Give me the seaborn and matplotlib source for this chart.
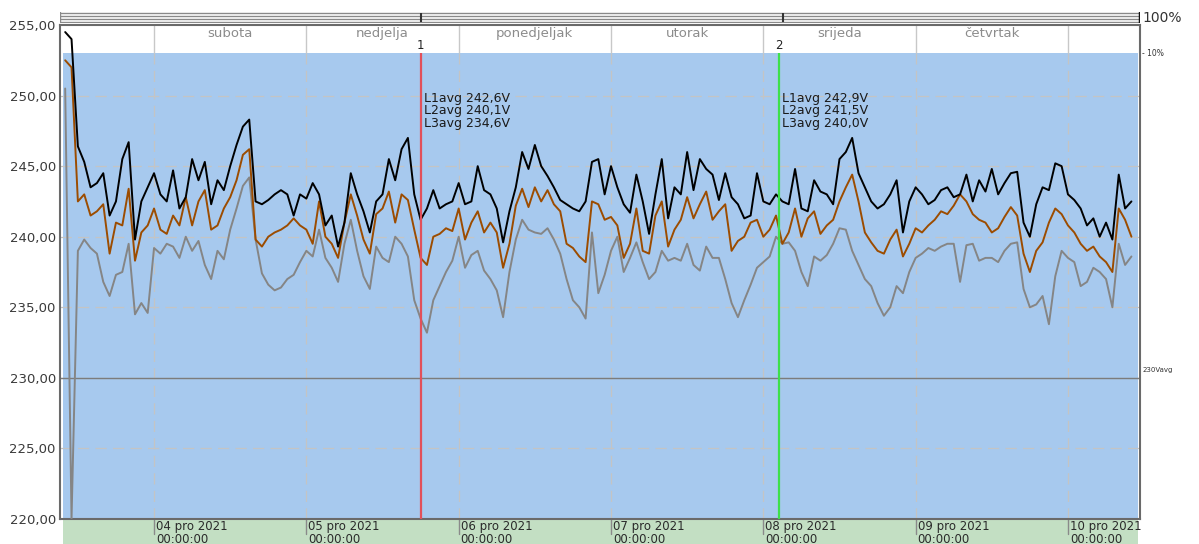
import numpy as np
import pandas as pd
import matplotlib
matplotlib.use("Agg")
import matplotlib.pyplot as plt
import matplotlib.dates as mdates
import matplotlib.transforms as mtransforms
from matplotlib.patches import Rectangle
from datetime import datetime
import seaborn as sns

# ---------------- data (hourly, from 03 Dec 2021 10:00) ----------------
L1_d3 = [254.5, 254.0, 246.4, 245.3, 243.5, 243.8, 244.5, 241.5, 242.5, 245.5, 246.7, 239.8, 242.5, 243.5]
L1_d4 = [244.5, 243.0, 242.5, 244.7, 242.0, 242.8, 245.5, 244.0, 245.3, 242.3, 244.0, 243.3, 245.0, 246.5, 247.8, 248.3, 242.5, 242.3, 242.6, 243.0, 243.3, 243.0, 241.5, 243.0]
L1_d5 = [242.7, 243.8, 243.0, 240.8, 241.5, 239.3, 241.0, 244.5, 243.0, 241.8, 240.3, 242.5, 243.0, 245.5, 244.0, 246.2, 247.0, 243.0, 241.2, 242.0, 243.3, 242.0, 242.3, 242.5]
L1_d6 = [243.8, 242.3, 242.5, 245.0, 243.3, 243.0, 242.0, 239.6, 241.8, 243.5, 246.0, 244.8, 246.5, 245.0, 244.3, 243.5, 242.6, 242.3, 242.0, 241.8, 242.5, 245.3, 245.5, 243.0]
L1_d7 = [245.0, 243.5, 242.3, 241.7, 244.4, 242.5, 240.2, 243.0, 245.5, 241.3, 243.5, 243.0, 246.0, 243.3, 245.5, 244.8, 244.4, 242.6, 244.5, 242.8, 242.3, 241.3, 241.5, 244.5]
L1_d8 = [242.5, 242.3, 243.0, 242.5, 242.3, 244.8, 242.0, 241.8, 244.0, 243.2, 243.0, 242.3, 245.5, 246.0, 247.0, 244.5, 243.5, 242.5, 242.0, 242.3, 243.0, 244.0, 240.3, 242.5]
L1_d9 = [243.5, 243.0, 242.3, 242.6, 243.3, 243.5, 242.8, 243.0, 244.4, 242.5, 244.0, 243.2, 244.8, 243.0, 243.8, 244.5, 244.6, 241.0, 240.0, 242.3, 243.5, 243.3, 245.2, 245.0]
L1_d10 = [243.0, 242.6, 242.0, 240.8, 241.3, 240.0, 241.0, 239.8, 244.4, 242.0, 242.5]

L2_d3 = [252.5, 252.0, 242.5, 243.0, 241.5, 241.8, 242.3, 238.8, 241.0, 240.8, 243.4, 238.3, 240.3, 240.8]
L2_d4 = [242.0, 240.5, 240.2, 241.5, 240.8, 242.8, 240.8, 242.5, 243.3, 240.5, 240.8, 242.0, 242.8, 244.0, 245.8, 246.2, 239.8, 239.3, 240.0, 240.3, 240.5, 240.8, 241.3, 240.8]
L2_d5 = [240.5, 239.5, 242.5, 240.0, 239.5, 238.5, 241.0, 243.0, 241.5, 239.8, 238.8, 241.6, 242.0, 243.2, 241.0, 243.0, 242.6, 240.5, 238.5, 238.0, 240.0, 240.2, 240.6, 240.4]
L2_d6 = [242.0, 239.8, 241.0, 241.8, 240.3, 241.0, 240.3, 237.8, 239.5, 242.2, 243.4, 242.1, 243.5, 242.5, 243.3, 242.3, 241.8, 239.5, 239.2, 238.6, 238.2, 242.5, 242.3, 241.2]
L2_d7 = [241.4, 240.8, 238.5, 239.5, 242.0, 239.0, 238.8, 241.5, 242.5, 239.3, 240.5, 241.2, 242.8, 241.3, 242.3, 243.2, 241.2, 241.8, 242.3, 239.0, 239.7, 240.0, 241.0, 241.2]
L2_d8 = [240.0, 240.5, 241.5, 239.5, 240.3, 242.0, 240.0, 241.3, 241.8, 240.2, 240.8, 241.2, 242.5, 243.5, 244.4, 242.5, 240.3, 239.6, 239.0, 238.8, 239.8, 240.5, 238.6, 239.5]
L2_d9 = [240.6, 240.3, 240.8, 241.2, 241.8, 241.6, 242.2, 243.0, 242.5, 241.6, 241.2, 241.0, 240.3, 240.6, 241.4, 242.1, 241.5, 238.8, 237.5, 239.0, 239.6, 241.0, 242.0, 241.6]
L2_d10 = [240.8, 240.3, 239.5, 239.0, 239.3, 238.6, 238.2, 237.5, 242.0, 241.2, 240.0]

L3_d3 = [250.5, 220.0, 239.0, 239.8, 239.2, 238.8, 236.8, 235.8, 237.3, 237.5, 239.5, 234.5, 235.3, 234.6]
L3_d4 = [239.2, 238.8, 239.5, 239.3, 238.5, 240.0, 239.0, 239.7, 238.0, 237.0, 239.0, 238.4, 240.5, 242.0, 243.6, 244.2, 239.8, 237.4, 236.6, 236.2, 236.4, 237.0, 237.3, 238.2]
L3_d5 = [239.0, 238.6, 240.5, 238.5, 237.8, 236.8, 239.5, 241.2, 239.0, 237.2, 236.3, 239.3, 238.5, 238.2, 240.0, 239.5, 238.6, 235.5, 234.2, 233.2, 235.5, 236.5, 237.5, 238.3]
L3_d6 = [240.0, 237.8, 238.7, 239.0, 237.6, 237.0, 236.2, 234.3, 237.5, 239.8, 241.2, 240.5, 240.3, 240.2, 240.6, 239.8, 238.8, 237.0, 235.5, 235.0, 234.2, 240.3, 236.0, 237.3]
L3_d7 = [239.0, 240.0, 237.5, 238.5, 239.6, 238.2, 237.0, 237.5, 239.0, 238.3, 238.5, 238.3, 239.5, 238.0, 237.6, 239.3, 238.5, 238.5, 237.0, 235.3, 234.3, 235.5, 236.6, 237.8]
L3_d8 = [238.2, 238.6, 240.0, 239.5, 239.6, 239.0, 237.5, 236.5, 238.6, 238.3, 238.7, 239.5, 240.6, 240.5, 239.0, 238.0, 237.0, 236.5, 235.3, 234.4, 235.0, 236.5, 236.0, 237.5]
L3_d9 = [238.5, 238.8, 239.2, 239.0, 239.3, 239.5, 239.5, 236.8, 239.4, 239.5, 238.3, 238.5, 238.5, 238.2, 239.0, 239.5, 239.6, 236.3, 235.0, 235.2, 235.8, 233.8, 237.2, 239.0]
L3_d10 = [238.5, 238.2, 236.5, 236.8, 237.8, 237.5, 237.0, 235.0, 239.5, 238.0, 238.6]

day_names = ["subota", "nedjelja", "ponedjeljak", "utorak", "srijeda", "četvrtak"]
tick_labels = ["04 pro 2021\n00:00:00", "05 pro 2021\n00:00:00", "06 pro 2021\n00:00:00",
               "07 pro 2021\n00:00:00", "08 pro 2021\n00:00:00", "09 pro 2021\n00:00:00",
               "10 pro 2021\n00:00:00"]
cursor1_text = ["L1avg 242,6V", "L2avg 240,1V", "L3avg 234,6V"]
cursor2_text = ["L1avg 242,9V", "L2avg 241,5V", "L3avg 240,0V"]

L1 = L1_d3 + L1_d4 + L1_d5 + L1_d6 + L1_d7 + L1_d8 + L1_d9 + L1_d10
L2 = L2_d3 + L2_d4 + L2_d5 + L2_d6 + L2_d7 + L2_d8 + L2_d9 + L2_d10
L3 = L3_d3 + L3_d4 + L3_d5 + L3_d6 + L3_d7 + L3_d8 + L3_d9 + L3_d10
n = len(L1)
times = pd.date_range("2021-12-03 10:00", periods=n, freq="h")
df = pd.DataFrame({
    "time": list(times) * 3,
    "V": L3 + L2 + L1,
    "phase": ["L3"] * n + ["L2"] * n + ["L1"] * n,
})

# ---------------- figure ----------------
sns.set_style("white")
plt.rcParams['font.family'] = ['DejaVu Sans']

W, H = 1199, 544
fig = plt.figure(figsize=(W / 100, H / 100), dpi=100)
Lp, Rp, Tp, Bp = 60, 1140, 25, 519
ax = fig.add_axes([Lp / W, 1 - Bp / H, (Rp - Lp) / W, (Bp - Tp) / H])

x0 = mdates.date2num(datetime(2021, 12, 3, 9, 11))
x1 = mdates.date2num(datetime(2021, 12, 10, 11, 21))

# background limit band
ax.axhspan(220, 253, xmin=3 / 1080, xmax=1078 / 1080, color="#A7C9EE", zorder=0, lw=0)

# grid
for v in [225, 230, 235, 240, 245, 250]:
    ax.axhline(v, color="#c4c4c4", lw=0.9, ls=(0, (9, 5)), zorder=1)
days = [datetime(2021, 12, d) for d in range(4, 11)]
for d in days:
    ax.vlines(d, 220, 253, color="#c4c4c4", lw=0.9, linestyles=(0, (9, 5)), zorder=1)
    ax.vlines(d, 253, 255, color="#c8c8c8", lw=1.0, zorder=1)
ax.axhline(230, color="#7c7c7c", lw=1.0, zorder=2)

sns.lineplot(data=df, x="time", y="V", hue="phase", hue_order=["L3", "L2", "L1"],
             palette={"L1": "#000000", "L2": "#9C4C00", "L3": "#858585"},
             estimator=None, sort=False, lw=1.4, legend=False, ax=ax, zorder=3)

ax.set_xlim(x0, x1)
ax.set_ylim(220, 255)
ax.set_xlabel("")
ax.set_ylabel("")

# y ticks
yt = [220, 225, 230, 235, 240, 245, 250, 255]
ax.set_yticks(yt)
ax.set_yticklabels([f"{v:.2f}".replace(".", ",") for v in yt], fontsize=9.5, color="#3a3a3a")
ax.tick_params(axis="y", length=0, pad=3)

# x ticks
ax.set_xticks(days)
ax.set_xticklabels(tick_labels, fontsize=8.5, color="#2a2a2a", ha="left", linespacing=1.0)
ax.tick_params(axis="x", length=0, pad=0.5)
off = mtransforms.ScaledTranslation(2 / 100, 0, fig.dpi_scale_trans)
for lab in ax.get_xticklabels():
    lab.set_transform(lab.get_transform() + off)
for d in days:
    ax.plot([d, d], [0, -0.03], transform=ax.get_xaxis_transform(), color="#8a8a8a",
            lw=1.0, clip_on=False)

for s in ax.spines.values():
    s.set_color("#6a6a6a")
    s.set_linewidth(1.5)
    s.set_visible(True)

# day names
for i, name in enumerate(day_names):
    mid = mdates.date2num(days[i]) + 0.5
    ax.text(mid, 254.43, name, ha="center", va="center", fontsize=9.5, color="#8c8c8c")

# cursors
c1 = datetime(2021, 12, 5, 18, 2)
c2 = datetime(2021, 12, 8, 2, 25)
ax.vlines(c1, 220, 253, color="#E2505A", lw=1.6, zorder=5)
ax.vlines(c2, 220, 253, color="#3EE04A", lw=1.6, zorder=5)
ax.text(c1, 253.58, "1", ha="center", va="center", fontsize=8.5, color="#222")
ax.text(c2, 253.58, "2", ha="center", va="center", fontsize=8.5, color="#222")
offt = mtransforms.ScaledTranslation(3 / 100, 0, fig.dpi_scale_trans)
for c, texts in [(c1, cursor1_text), (c2, cursor2_text)]:
    for yv, t in zip([249.8, 248.92, 248.02], texts):
        ax.text(c, yv, t, ha="left", va="center", fontsize=9, color="#1a1a1a",
                transform=ax.transData + offt, zorder=6)

# green date band
fig.add_artist(Rectangle((63 / W, 0), (1138 - 63) / W, 25 / H, transform=fig.transFigure,
                         facecolor="#C3DFC3", edgecolor="none", zorder=-1))

# top scroll strip
axs = fig.add_axes([Lp / W, 1 - 23 / H, (Rp - Lp) / W, 11 / H])
axs.set_xlim(0, 1)
axs.set_ylim(0, 1)
axs.axis("off")
for yy in [0.05, 0.35, 0.65, 0.95]:
    axs.axhline(yy, color="#8a8a8a", lw=1.0)
axs.axvline(0, color="#8a8a8a", lw=1.0)
axs.axvline(1, color="#111111", lw=2.5)
for px in [421, 783]:
    axs.vlines((px - Lp) / (Rp - Lp), 0.05, 0.95, color="#333333", lw=1.5)
fig.text(1142 / W, 1 - 17.5 / H, "100%", fontsize=10, va="center", ha="left", color="#333")
fig.text(1142 / W, 1 - 53 / H, "- 10%", fontsize=5.5, va="center", ha="left", color="#333")
fig.text(1143 / W, 1 - 370 / H, "230Vavg", fontsize=5, va="center", ha="left", color="#333")

fig.savefig("out.png", dpi=100)
